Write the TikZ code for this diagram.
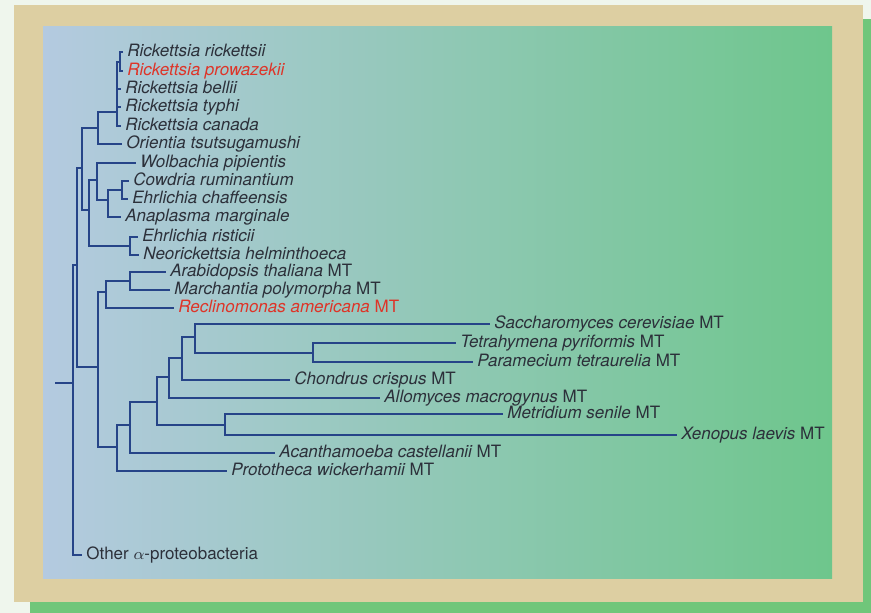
\documentclass[tikz,border=0pt]{standalone}
\usepackage{fontspec}
\setmainfont{TeX Gyre Heros}
\definecolor{paper}{RGB}{239,246,237}
\definecolor{shadow}{RGB}{112,198,122}
\definecolor{tan}{RGB}{221,207,162}
\definecolor{panelL}{RGB}{180,202,224}
\definecolor{panelM}{RGB}{150,204,196}
\definecolor{panelR}{RGB}{110,198,140}
\definecolor{treeblue}{RGB}{38,68,136}
\definecolor{inkgrey}{RGB}{44,48,58}
\definecolor{redname}{RGB}{222,52,40}
\newcommand{\mt}{ \upshape MT}
\begin{document}
\begin{tikzpicture}[x=0.5pt,y=-0.5pt,
  branch/.style={draw=treeblue,line width=1.3pt},
  leaf/.style={anchor=west,inner sep=2pt,text=inkgrey,font=\fontsize{8.5}{10}\selectfont\itshape,text height=6pt,text depth=1.8pt}]
\useasboundingbox (0,0) rectangle (871,613);
\fill[paper] (0,0) rectangle (871,613);
\fill[shadow] (30,19) rectangle (871,613);
\fill[tan] (14,5) rectangle (863,602);
\shade[left color=panelL,middle color=panelM,right color=panelR] (43,27) rectangle (832,578);
\foreach \nm/\px/\py/\txt in {
  rric/123/52/{Rickettsia rickettsii},
  rpro/123/71/{\color{redname}Rickettsia prowazekii},
  rbel/121/89/{Rickettsia bellii},
  rtyp/121/107/{Rickettsia typhi},
  rcan/121/126/{Rickettsia canada},
  otsu/122/144/{Orientia tsutsugamushi},
  wpip/136/163/{Wolbachia pipientis},
  crum/129/181/{Cowdria ruminantium},
  echa/128/199/{Ehrlichia chaffeensis},
  amar/121/217/{Anaplasma marginale},
  eris/138/237/{Ehrlichia risticii},
  nhel/139/255/{Neorickettsia helminthoeca},
  atha/166/272/{Arabidopsis thaliana\mt},
  mpol/170/290/{Marchantia polymorpha\mt},
  rame/174/308/{\color{redname}Reclinomonas americana\mt},
  scer/490/324/{Saccharomyces cerevisiae\mt},
  tpyr/456/343/{Tetrahymena pyriformis\mt},
  ptet/473/362/{Paramecium tetraurelia\mt},
  ccri/290/380/{Chondrus crispus\mt},
  amac/380/398/{Allomyces macrogynus\mt},
  msen/503/414/{Metridium senile\mt},
  xlae/677/435/{Xenopus laevis\mt},
  acas/275/453/{Acanthamoeba castellanii\mt},
  pwic/227/471/{Prototheca wickerhamii\mt},
  oalp/82/555/{\upshape Other $\alpha$-proteobacteria}}
  \node[leaf] (\nm) at (\px,\py) {\txt};
\foreach \nm/\px/\py in {nA/120/62, nB/117/112, nC/98/128, nD/82/168, nU/122/190, nT/108/200,
  nR/97/180, nS/130/246, nQ/89/210, nE/77/265, nF/73/383, nV/130/281, nH/106/292,
  nO/313/353, nN/195/337, nM/182/358, nL/169/377, nMX/225/425, nK/157/402,
  nJ/130/425, nI/117/447, nG/98/367, root/55/383}
  \coordinate (\nm) at (\px,\py);
\foreach \p/\c in {nA/rric, nA/rpro, nB/nA, nB/rbel, nB/rtyp, nB/rcan, nC/nB, nC/otsu,
  nD/nC, nD/nQ, nQ/nR, nQ/nS, nR/wpip, nR/nT, nT/nU, nT/amar, nU/crum, nU/echa,
  nS/eris, nS/nhel, nE/nD, nE/nG, nF/nE, nF/oalp, nG/nH, nG/nI, nH/nV, nH/rame,
  nV/atha, nV/mpol, nI/nJ, nI/pwic, nJ/nK, nJ/acas, nK/nL, nK/nMX, nL/nM, nL/amac,
  nM/nN, nM/ccri, nN/scer, nN/nO, nO/tpyr, nO/ptet, nMX/msen, nMX/xlae}
  \draw[branch] (\p) |- (\c);
\draw[branch] (root) -- (nF);
\end{tikzpicture}
\end{document}
